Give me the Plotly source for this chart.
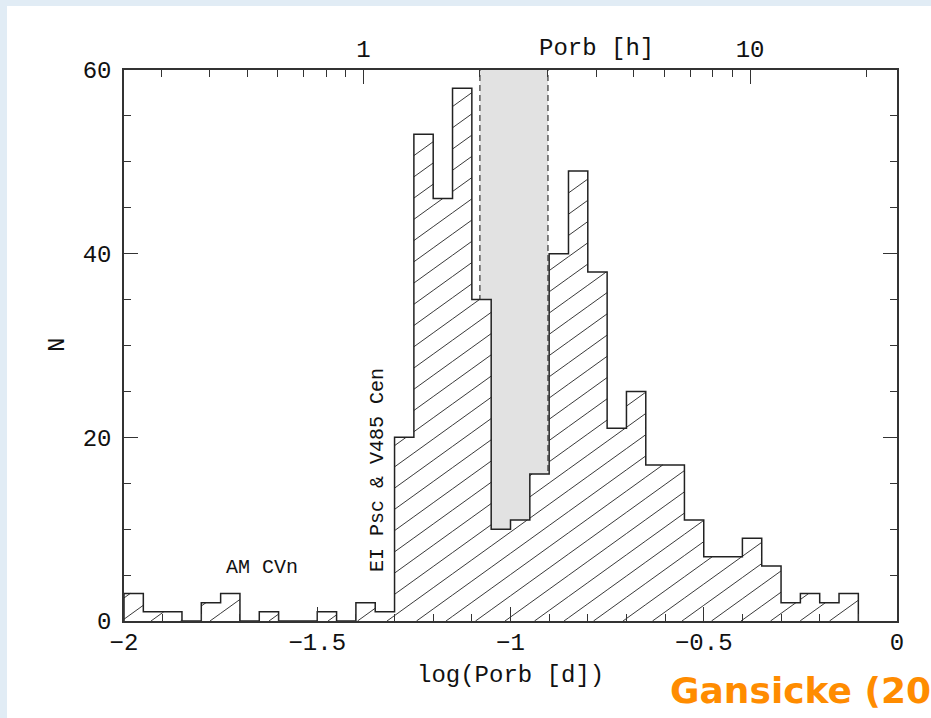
import numpy as np
import plotly.graph_objects as go

# ---------------- data ----------------
bin_start = -2.0
bin_width = 0.05
counts = [3, 1, 1, 0, 2, 3, 0, 1, 0, 0, 1, 0, 2, 1, 20, 53, 46, 58, 35, 10,
          11, 16, 40, 49, 38, 21, 25, 17, 17, 11, 7, 7, 9, 6, 2, 3, 2, 3]
gap_hours = [2.0, 3.0]                      # period gap (hours)
x_ticks = [-2, -1.5, -1, -0.5, 0]
y_ticks = [0, 20, 40, 60]
top_major_hours = [1, 10]
top_minor_hours = [0.3, 0.4, 0.5, 0.6, 0.7, 0.8, 0.9, 2, 3, 4, 5, 6, 7, 8, 9, 20]

# ---------------- geometry helpers ----------------
W, H = 931, 718
ML, MR, MT, MB = 124, 34, 70, 97
PW, PH = W - ML - MR, H - MT - MB
XR = [-2, 0]
YR = [0, 60]
sx = PW / (XR[1] - XR[0])     # px per x unit
sy = PH / (YR[1] - YR[0])     # px per y unit


def px2paper(px, py):
    return (px - ML) / PW, (H - MB - py) / PH


counts = np.array(counts, dtype=float)
edges = bin_start + bin_width * np.arange(len(counts) + 1)
centers = edges[:-1] + bin_width / 2

# step outline built from the counts
sx_line, sy_line = [edges[0]], [0.0]
for a, b, h in zip(edges[:-1], edges[1:], counts):
    sx_line += [a, b]
    sy_line += [h, h]
sx_line.append(edges[-1])
sy_line.append(0.0)

# hatching (slope and spacing in pixels, converted to data units)
slope_px = 0.72
spacing_px = 29.5
m = slope_px * sx / sy
dx = spacing_px / sx
ref_x = -1.2432                     # one hatch line meets the baseline here
k_min = int(np.floor((edges[0] - counts.max() / m - ref_x) / dx)) - 1
k_max = int(np.ceil((edges[-1] - ref_x) / dx)) + 1
hx, hy = [], []
for k in range(k_min, k_max + 1):
    x0 = ref_x + k * dx
    for a, b, h in zip(edges[:-1], edges[1:], counts):
        if h <= 0:
            continue
        s = max(a, x0)
        e = min(b, x0 + h / m)
        if e > s:
            hx += [s, e, None]
            hy += [m * (s - x0), m * (e - x0), None]

gap_x = [np.log10(h / 24) for h in gap_hours]

fig = go.Figure()

fig.add_trace(go.Bar(x=centers, y=counts, width=bin_width,
                     marker=dict(color="white", line=dict(width=0)),
                     hoverinfo="skip", showlegend=False))
fig.add_trace(go.Scatter(x=hx, y=hy, mode="lines",
                         line=dict(color="#222222", width=0.9),
                         hoverinfo="skip", showlegend=False))
fig.add_trace(go.Scatter(x=sx_line, y=sy_line, mode="lines",
                         line=dict(color="#222222", width=1.5),
                         hoverinfo="skip", showlegend=False))
# invisible trace to activate the top (hours) axis
fig.add_trace(go.Scatter(x=[XR[0], XR[1]], y=[0, 0], xaxis="x2", mode="markers",
                         marker=dict(opacity=0), hoverinfo="skip", showlegend=False))

# background panel + period gap shading
p0 = px2paper(7, 6)
p1 = px2paper(W + 5, H + 5)
shapes = [
    dict(type="rect", xref="paper", yref="paper", x0=p0[0], x1=p1[0], y0=p1[1], y1=p0[1],
         fillcolor="white", line=dict(width=0), layer="below"),
    dict(type="rect", xref="x", yref="y", x0=gap_x[0], x1=gap_x[1], y0=YR[0], y1=YR[1],
         fillcolor="#e2e2e2", line=dict(width=0), layer="below"),
]
for gx in gap_x:
    shapes.append(dict(type="line", xref="x", yref="y", x0=gx, x1=gx, y0=YR[0], y1=YR[1],
                       line=dict(color="#444444", width=1.3, dash="6px,4px"), layer="below"))

FONT = "Liberation Mono"
axis_col = "#333333"

annotations = []


def ann(text, px, py, size, angle=0, font=FONT, color="#111111", xanchor="center", **kw):
    x, y = px2paper(px, py)
    annotations.append(dict(text=text, x=x, y=y, xref="paper", yref="paper",
                            showarrow=False, textangle=angle, xanchor=xanchor,
                            yanchor="middle",
                            font=dict(family=font, size=size, color=color, **kw)))


ann("Porb [h]", 596, 48, 24)
ann("log(Porb [d])", 510, 675, 24)
ann("N", 57, 345, 24, angle=-90)
ann("AM CVn", 262, 567, 20)
ann("EI Psc &amp; V485 Cen", 377, 470, 20, angle=-90)
ann("Gansicke (20", 668, 690, 36, font="DejaVu Sans", color="#ff8c00",
    xanchor="left", weight="bold")

fig.update_layout(
    width=W, height=H,
    margin=dict(l=ML, r=MR, t=MT, b=MB, pad=0),
    paper_bgcolor="#e1ecf5",
    plot_bgcolor="white",
    bargap=0,
    shapes=shapes,
    annotations=annotations,
    font=dict(family=FONT, size=24, color="#111111"),
    xaxis=dict(range=XR, tickmode="array", tickvals=x_ticks,
               ticks="inside", ticklen=14, tickwidth=1.2, tickcolor=axis_col,
               showline=True, linecolor=axis_col, linewidth=1.5,
               showgrid=False, zeroline=False, ticklabelstandoff=-2,
               minor=dict(tickmode="array",
                          tickvals=[round(-2 + 0.1 * i, 2) for i in range(21)],
                          ticks="inside", ticklen=7, tickwidth=1.1, tickcolor=axis_col,
                          showgrid=False),
               tickfont=dict(family=FONT, size=24)),
    xaxis2=dict(range=XR, overlaying="x", side="top", anchor="y",
                tickmode="array",
                tickvals=[np.log10(h / 24) for h in top_major_hours],
                ticktext=[str(h) for h in top_major_hours],
                ticks="inside", ticklen=14, tickwidth=1.2, tickcolor=axis_col,
                showline=True, linecolor=axis_col, linewidth=1.5,
                showgrid=False, zeroline=False, ticklabelstandoff=2,
                minor=dict(tickmode="array",
                           tickvals=[np.log10(h / 24) for h in top_minor_hours],
                           ticks="inside", ticklen=7, tickwidth=1.1, tickcolor=axis_col,
                           showgrid=False),
                tickfont=dict(family=FONT, size=24)),
    yaxis=dict(range=YR, tickmode="array", tickvals=y_ticks,
               ticks="inside", ticklen=14, tickwidth=1.2, tickcolor=axis_col,
               showline=True, linecolor=axis_col, linewidth=1.5, mirror="ticks",
               showgrid=False, zeroline=False, ticklabelstandoff=6,
               minor=dict(tickmode="array", tickvals=list(range(0, 61, 5)),
                          ticks="inside", ticklen=7, tickwidth=1.1, tickcolor=axis_col,
                          showgrid=False),
               tickfont=dict(family=FONT, size=24)),
)

fig.write_html("out.html")
